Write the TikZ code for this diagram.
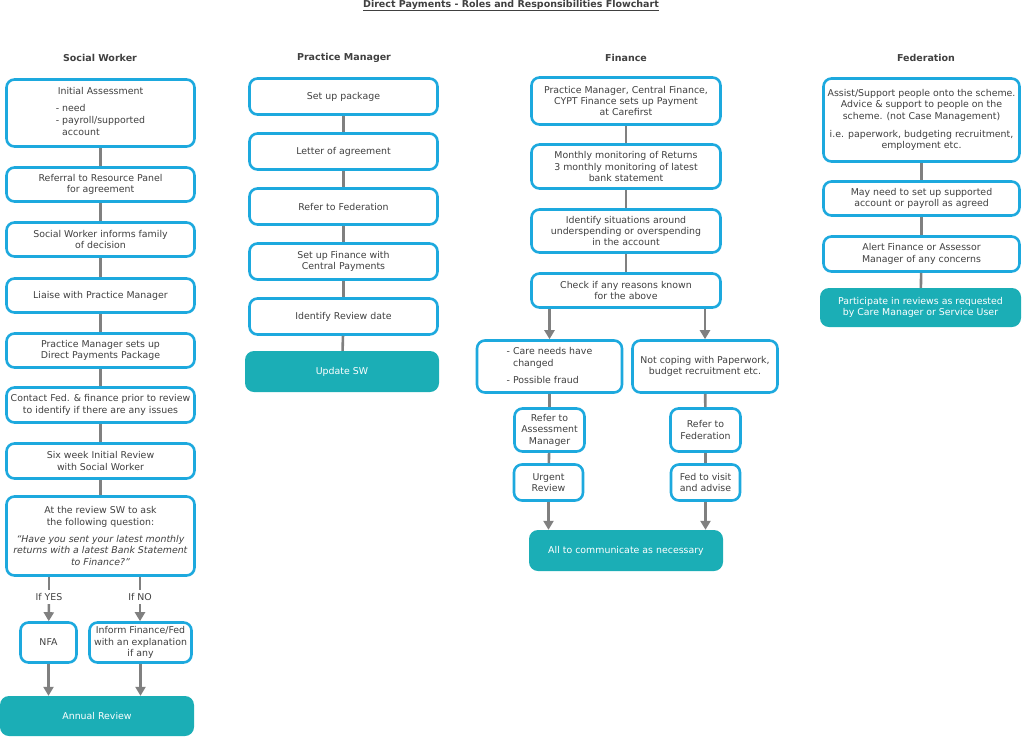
\documentclass[tikz,border=0pt]{standalone}
\usepackage{fontspec}
\setmainfont{DejaVu Sans}
\usetikzlibrary{arrows.meta,positioning}
\definecolor{boxblue}{RGB}{29,169,222}
\definecolor{tealfill}{RGB}{27,174,182}
\definecolor{linegray}{RGB}{128,128,128}
\definecolor{textgray}{RGB}{64,64,64}
\tikzstyle{task} = [rectangle, rounded corners=8pt, draw=boxblue, line width=2.6pt,
fill=white, text=textgray, align=center, inner sep=1pt,
font=\fontsize{9.4}{11.4}\selectfont]
\tikzstyle{final} = [rectangle, rounded corners=9pt, fill=tealfill, text=white,
align=center, inner sep=1pt, font=\fontsize{9.4}{11.4}\selectfont]
\tikzstyle{head} = [text=textgray, font=\bfseries\fontsize{9.5}{11}\selectfont]
\tikzstyle{link} = [draw=linegray, line width=2.6pt]
\tikzstyle{arrow} = [link, -{Triangle[width=10pt,length=9pt]}]
\renewcommand{\arraystretch}{1.05}

\begin{document}
\begin{tikzpicture}[x=1pt,y=-1pt]
            \useasboundingbox (0,0) rectangle (1024,737);
            \node[head] (title) at (511,5.5) {\underline{Direct Payments - Roles and Responsibilities Flowchart}};
            % column headings
            \node[head] (hsw) at (100,58) {Social Worker};
            \node[head] (hpm) at (344,58) {Practice Manager};
            \node[head] (hfn) at (626,58) {Finance};
            \node[head] (hfd) at (926,58) {Federation};
            % social worker
            \node[task, minimum width=188, minimum height=67] (sw1) at (100.5,113)
                {Initial Assessment\\[7pt]\begin{tabular}{@{}l@{}}- need\\- payroll/supported\\\hphantom{- }account\end{tabular}};
            \node[task, minimum width=188, minimum height=34] (sw2) at (100.5,184.5) {Referral to Resource Panel\\for agreement};
            \node[task, minimum width=188, minimum height=34] (sw3) at (100.5,239.5) {Social Worker informs family\\of decision};
            \node[task, minimum width=188, minimum height=34] (sw4) at (100.5,295.5) {Liaise with Practice Manager};
            \node[task, minimum width=188, minimum height=34] (sw5) at (100.5,350.5) {Practice Manager sets up\\Direct Payments Package};
            \node[task, minimum width=188, minimum height=35] (sw6) at (100.5,405) {Contact Fed. \& finance prior to review\\to identify if there are any issues};
            \node[task, minimum width=188, minimum height=35] (sw7) at (100.5,461) {Six week Initial Review\\with Social Worker};
            \node[task, minimum width=188, minimum height=79] (sw8) at (100.5,536)
                {At the review SW to ask\\the following question:\\[6pt]\textit{“Have you sent your latest monthly}\\\textit{returns with a latest Bank Statement}\\\textit{to Finance?”}};
            \node[text=textgray, font=\fontsize{9.4}{11}\selectfont] (yes) at (49,597) {If YES};
            \node[text=textgray, font=\fontsize{9.4}{11}\selectfont] (no) at (140,597) {If NO};
            \node[task, minimum width=56, minimum height=40] (nfa) at (48.5,642.5) {NFA};
            \node[task, minimum width=102, minimum height=40] (inform) at (140.5,642.5) {Inform Finance/Fed\\with an explanation\\if any};
            \node[final, minimum width=194, minimum height=40] (annual) at (97,716) {Annual Review};
            \draw[link] (sw1) -- (sw2);
            \draw[link] (sw2) -- (sw3);
            \draw[link] (sw3) -- (sw4);
            \draw[link] (sw4) -- (sw5);
            \draw[link] (sw5) -- (sw6);
            \draw[link] (sw6) -- (sw7);
            \draw[link] (sw7) -- (sw8);
            \draw[link] (sw8.south -| yes) -- (yes);
            \draw[link] (sw8.south -| no) -- (no);
            \draw[arrow] (yes) -- (nfa);
            \draw[arrow] (no) -- (inform.north -| no);
            \draw[arrow] (nfa) -- (annual.north -| nfa);
            \draw[arrow] (inform) -- (annual.north -| inform);
            % practice manager
            \node[task, minimum width=188, minimum height=36] (pm1) at (343.5,96.5) {Set up package};
            \node[task, minimum width=188, minimum height=36] (pm2) at (343.5,151.5) {Letter of agreement};
            \node[task, minimum width=188, minimum height=36] (pm3) at (343.5,206.5) {Refer to Federation};
            \node[task, minimum width=188, minimum height=36] (pm4) at (343.5,261.5) {Set up Finance with\\Central Payments};
            \node[task, minimum width=188, minimum height=36] (pm5) at (343.5,316.5) {Identify Review date};
            \node[final, minimum width=194, minimum height=41] (pm6) at (342,371.5) {Update SW};
            \draw[link] (pm1) -- (pm2);
            \draw[link] (pm2) -- (pm3);
            \draw[link] (pm3) -- (pm4);
            \draw[link] (pm4) -- (pm5);
            \draw[link] (pm5) -- (pm6);
            % finance
            \node[task, minimum width=189, minimum height=47] (fn1) at (626,101) {Practice Manager, Central Finance,\\CYPT Finance sets up Payment\\at Carefirst};
            \node[task, minimum width=189, minimum height=44] (fn2) at (626,166.5) {Monthly monitoring of Returns\\3 monthly monitoring of latest\\bank statement};
            \node[task, minimum width=189, minimum height=43] (fn3) at (626,231) {Identify situations around\\underspending or overspending\\in the account};
            \node[task, minimum width=189, minimum height=34] (fn4) at (626,290.5) {Check if any reasons known\\for the above};
            \node[task, minimum width=145, minimum height=52] (care) at (549.5,366.5)
                {\begin{tabular}{@{}l@{}}- Care needs have\\\hphantom{- }changed\\[5pt]- Possible fraud\end{tabular}};
            \node[task, minimum width=145, minimum height=52] (coping) at (705,366.5) {Not coping with Paperwork,\\budget recruitment etc.};
            \node[task, minimum width=70, minimum height=43] (assess) at (549.5,430) {Refer to\\Assessment\\Manager};
            \node[task, minimum width=70, minimum height=43] (referfed) at (705.5,430) {Refer to\\Federation};
            \node[task, minimum width=69, minimum height=36] (urgent) at (548.5,482.5) {Urgent\\Review};
            \node[task, minimum width=69, minimum height=36] (visit) at (705.5,482.5) {Fed to visit\\and advise};
            \node[final, minimum width=194, minimum height=41] (comms) at (626,550.5) {All to communicate as necessary};
            \draw[link] (fn1) -- (fn2);
            \draw[link] (fn2) -- (fn3);
            \draw[link] (fn3) -- (fn4);
            \draw[arrow] (fn4.south -| care) -- (care);
            \draw[arrow] (fn4.south -| coping) -- (coping);
            \draw[link] (care) -- (assess);
            \draw[link] (assess) -- (urgent);
            \draw[link] (coping) -- (referfed);
            \draw[link] (referfed) -- (visit);
            \draw[arrow] (urgent) -- (comms.north -| urgent);
            \draw[arrow] (visit) -- (comms.north -| visit);
            % federation
            \node[task, minimum width=196, minimum height=83] (fd1) at (921.5,120)
                {Assist/Support people onto the scheme.\\Advice \& support to people on the\\scheme. (not Case Management)\\[7pt]i.e. paperwork, budgeting recruitment,\\employment etc.};
            \node[task, minimum width=196, minimum height=34] (fd2) at (921.5,198.5) {May need to set up supported\\account or payroll as agreed};
            \node[task, minimum width=196, minimum height=35] (fd3) at (921.5,254) {Alert Finance or Assessor\\Manager of any concerns};
            \node[final, minimum width=201, minimum height=39] (fd4) at (920.5,307.5) {Participate in reviews as requested\\by Care Manager or Service User};
            \draw[link] (fd1) -- (fd2);
            \draw[link] (fd2) -- (fd3);
            \draw[link] (fd3) -- (fd4);
        \end{tikzpicture}
\end{document}
